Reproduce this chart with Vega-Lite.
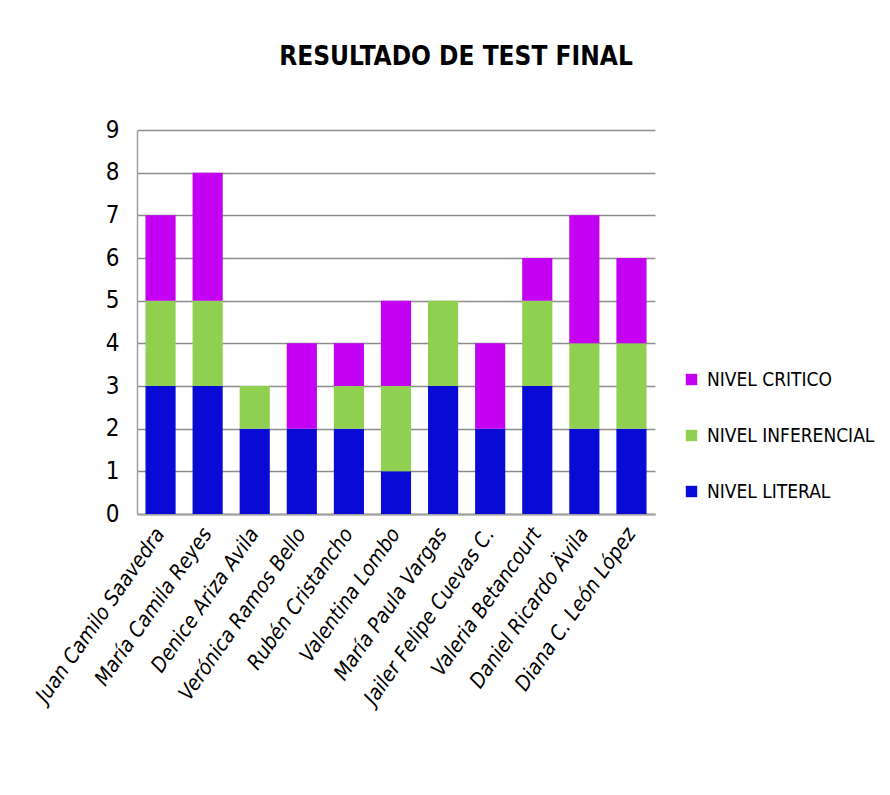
{
  "$schema": "https://vega.github.io/schema/vega-lite/v6.json",
  "width": 518,
  "height": 384,
  "autosize": {"type": "none"},
  "padding": {"left": 137, "top": 130, "right": 235, "bottom": 281},
  "background": "white",
  "title": {
    "text": "RESULTADO DE TEST FINAL",
    "anchor": "middle",
    "dx": 60,
    "offset": 48,
    "fontSize": 26,
    "font": "DejaVu Sans Condensed",
    "fontWeight": "bold",
    "color": "#000000"
  },
  "data": {
    "values": [
      {"nombre": "Juan Camilo Saavedra", "nivel": "NIVEL LITERAL", "valor": 3},
      {"nombre": "Juan Camilo Saavedra", "nivel": "NIVEL INFERENCIAL", "valor": 2},
      {"nombre": "Juan Camilo Saavedra", "nivel": "NIVEL  CRITICO", "valor": 2},
      {"nombre": "María Camila Reyes", "nivel": "NIVEL LITERAL", "valor": 3},
      {"nombre": "María Camila Reyes", "nivel": "NIVEL INFERENCIAL", "valor": 2},
      {"nombre": "María Camila Reyes", "nivel": "NIVEL  CRITICO", "valor": 3},
      {"nombre": "Denice Ariza Avila", "nivel": "NIVEL LITERAL", "valor": 2},
      {"nombre": "Denice Ariza Avila", "nivel": "NIVEL INFERENCIAL", "valor": 1},
      {"nombre": "Denice Ariza Avila", "nivel": "NIVEL  CRITICO", "valor": 0},
      {"nombre": "Verónica Ramos Bello", "nivel": "NIVEL LITERAL", "valor": 2},
      {"nombre": "Verónica Ramos Bello", "nivel": "NIVEL INFERENCIAL", "valor": 0},
      {"nombre": "Verónica Ramos Bello", "nivel": "NIVEL  CRITICO", "valor": 2},
      {"nombre": "Rubén Cristancho", "nivel": "NIVEL LITERAL", "valor": 2},
      {"nombre": "Rubén Cristancho", "nivel": "NIVEL INFERENCIAL", "valor": 1},
      {"nombre": "Rubén Cristancho", "nivel": "NIVEL  CRITICO", "valor": 1},
      {"nombre": "Valentina Lombo", "nivel": "NIVEL LITERAL", "valor": 1},
      {"nombre": "Valentina Lombo", "nivel": "NIVEL INFERENCIAL", "valor": 2},
      {"nombre": "Valentina Lombo", "nivel": "NIVEL  CRITICO", "valor": 2},
      {"nombre": "María Paula Vargas", "nivel": "NIVEL LITERAL", "valor": 3},
      {"nombre": "María Paula Vargas", "nivel": "NIVEL INFERENCIAL", "valor": 2},
      {"nombre": "María Paula Vargas", "nivel": "NIVEL  CRITICO", "valor": 0},
      {"nombre": "Jailer Felipe Cuevas C.", "nivel": "NIVEL LITERAL", "valor": 2},
      {"nombre": "Jailer Felipe Cuevas C.", "nivel": "NIVEL INFERENCIAL", "valor": 0},
      {"nombre": "Jailer Felipe Cuevas C.", "nivel": "NIVEL  CRITICO", "valor": 2},
      {"nombre": "Valeria Betancourt", "nivel": "NIVEL LITERAL", "valor": 3},
      {"nombre": "Valeria Betancourt", "nivel": "NIVEL INFERENCIAL", "valor": 2},
      {"nombre": "Valeria Betancourt", "nivel": "NIVEL  CRITICO", "valor": 1},
      {"nombre": "Daniel Ricardo Ävila", "nivel": "NIVEL LITERAL", "valor": 2},
      {"nombre": "Daniel Ricardo Ävila", "nivel": "NIVEL INFERENCIAL", "valor": 2},
      {"nombre": "Daniel Ricardo Ävila", "nivel": "NIVEL  CRITICO", "valor": 3},
      {"nombre": "Diana C.  León López", "nivel": "NIVEL LITERAL", "valor": 2},
      {"nombre": "Diana C.  León López", "nivel": "NIVEL INFERENCIAL", "valor": 2},
      {"nombre": "Diana C.  León López", "nivel": "NIVEL  CRITICO", "valor": 2}
    ]
  },
  "mark": {"type": "bar", "strokeWidth": 0},
  "encoding": {
    "x": {
      "field": "nombre",
      "type": "nominal",
      "sort": null,
      "scale": {"paddingInner": 0.36, "paddingOuter": 0.18},
      "axis": {
        "title": null,
        "labelAngle": -55,
        "labelFontSize": 21,
        "labelFont": "DejaVu Sans Condensed",
        "labelFontStyle": "italic",
        "labelColor": "#000000",
        "labelPadding": 16,
        "ticks": false,
        "domainColor": "#a0a0a0",
        "domainWidth": 2,
        "labelLimit": 400
      }
    },
    "y": {
      "field": "valor",
      "type": "quantitative",
      "stack": "zero",
      "scale": {"domain": [0, 9]},
      "axis": {
        "title": null,
        "values": [0, 1, 2, 3, 4, 5, 6, 7, 8, 9],
        "labelFontSize": 24,
        "labelFont": "DejaVu Sans Condensed",
        "labelColor": "#000000",
        "labelPadding": 18,
        "ticks": false,
        "grid": true,
        "gridColor": "#8c8c8c",
        "gridWidth": 1.3,
        "domainColor": "#a0a0a0",
        "domainWidth": 1.5
      }
    },
    "color": {
      "field": "nivel",
      "type": "nominal",
      "scale": {
        "domain": ["NIVEL  CRITICO", "NIVEL INFERENCIAL", "NIVEL LITERAL"],
        "range": ["#c300f2", "#90d050", "#0a0ad6"]
      },
      "legend": {
        "title": null,
        "orient": "none",
        "legendX": 545,
        "legendY": 240,
        "symbolType": "square",
        "symbolSize": 130,
        "symbolStrokeWidth": 0,
        "labelFontSize": 19,
        "labelFont": "DejaVu Sans Condensed",
        "labelColor": "#000000",
        "labelLimit": 300,
        "rowPadding": 36,
        "labelOffset": 6
      }
    },
    "order": {"field": "nivel", "sort": "descending"}
  },
  "config": {"view": {"stroke": null}}
}
